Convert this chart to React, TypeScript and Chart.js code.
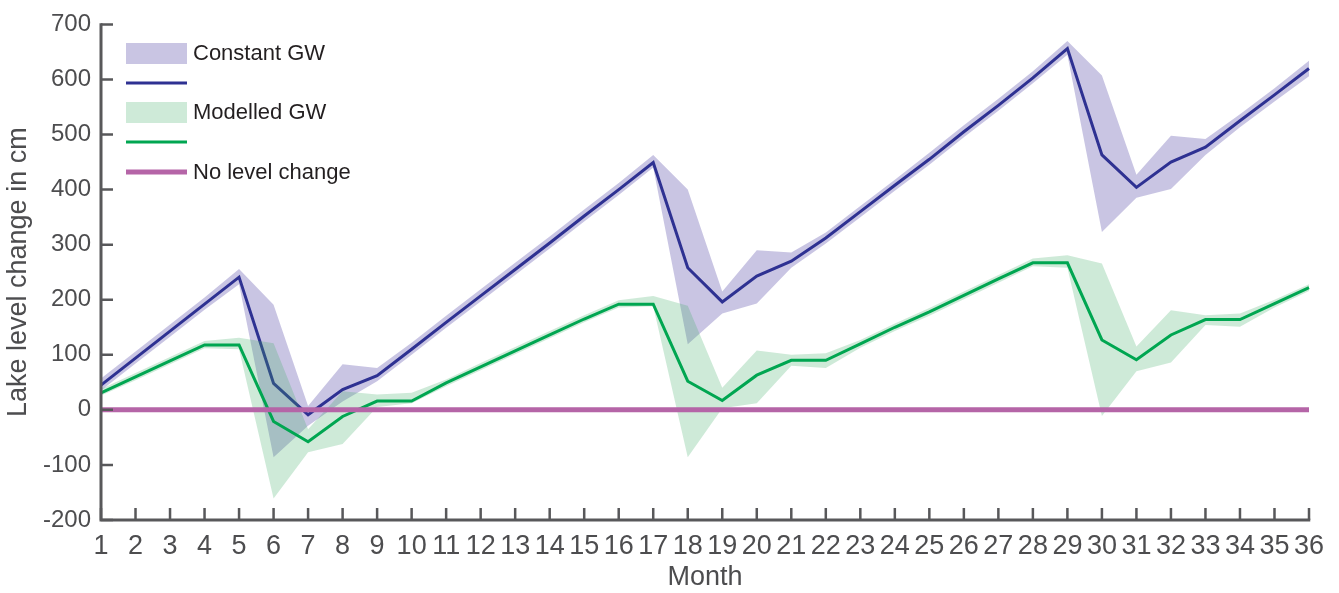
import { useEffect, useRef } from "react";
import { Chart, registerables } from "chart.js";

Chart.register(...registerables);

const months = [
  "1", "2", "3", "4", "5", "6", "7", "8", "9", "10", "11", "12",
  "13", "14", "15", "16", "17", "18", "19", "20", "21", "22", "23", "24",
  "25", "26", "27", "28", "29", "30", "31", "32", "33", "34", "35", "36",
];

const yTicks = [-200, -100, 0, 100, 200, 300, 400, 500, 600, 700];

const constantLine = [
  45, 94, 143, 192, 241, 48, -9, 37, 62, 110, 159, 207,
  255, 303, 352, 400, 449, 258, 196, 243, 270, 312, 360, 408,
  455, 505, 553, 603, 656, 463, 404, 450, 477, 525, 572, 620,
];
const constantUpper = [
  57, 106, 155, 204, 256, 191, 7, 83, 76, 122, 171, 219,
  267, 315, 364, 412, 463, 400, 215, 290, 286, 322, 370, 418,
  467, 517, 565, 615, 670, 607, 427, 498, 492, 537, 584, 634,
];
const constantLower = [
  35, 84, 133, 182, 228, -86, -29, 15, 52, 100, 149, 197,
  245, 293, 342, 390, 440, 119, 175, 193, 258, 302, 350, 398,
  445, 495, 543, 593, 645, 323, 385, 401, 463, 513, 560, 606,
];

const modelledLine = [
  31, 60, 89, 118, 118, -21, -58, -12, 16, 16, 49, 78,
  107, 136, 165, 192, 192, 52, 17, 63, 90, 90, 120, 150,
  178, 208, 238, 267, 267, 127, 91, 136, 164, 164, 193, 222,
];
const modelledUpper = [
  38, 67, 96, 125, 131, 121, -35, 34, 28, 31, 55, 85,
  114, 143, 172, 199, 207, 189, 40, 108, 100, 103, 127, 157,
  185, 215, 245, 275, 281, 266, 115, 181, 172, 175, 200, 228,
];
const modelledLower = [
  26, 54, 83, 112, 110, -161, -77, -62, 5, 12, 43, 72,
  101, 130, 159, 186, 188, -86, 3, 12, 80, 76, 113, 143,
  171, 201, 231, 261, 258, -11, 70, 86, 154, 151, 186, 216,
];

const noChange = [
  0, 0, 0, 0, 0, 0, 0, 0, 0, 0, 0, 0,
  0, 0, 0, 0, 0, 0, 0, 0, 0, 0, 0, 0,
  0, 0, 0, 0, 0, 0, 0, 0, 0, 0, 0, 0,
];

const legendLabels = ["Constant GW", "", "Modelled GW", "", "No level change"];

const AXIS_COLOR = "#58585a";
const TEXT_COLOR = "#4d4d4f";
const BLUE = "#2e3192";
const GREEN = "#00a651";
const PURPLE = "#b565a7";
const BLUE_BAND = "rgba(120,110,185,0.4)";
const GREEN_BAND = "rgba(60,170,100,0.25)";

export default function App() {
  const ref = useRef<HTMLCanvasElement>(null);

  useEffect(() => {
    document.body.style.margin = "0";
    if (!ref.current) return;

    const axesPlugin = {
      id: "matlabAxes",
      afterDatasetsDraw(chart: any) {
        const { ctx, chartArea } = chart;
        const xs = chart.scales.x;
        const ys = chart.scales.y;
        const { left, right, top, bottom } = chartArea;
        ctx.save();
        ctx.strokeStyle = AXIS_COLOR;
        ctx.lineCap = "butt";
        ctx.lineWidth = 2.5;
        ctx.beginPath();
        ys.ticks.forEach((_t: any, i: number) => {
          const py = ys.getPixelForTick(i);
          ctx.moveTo(left, py);
          ctx.lineTo(left + 12, py);
        });
        xs.ticks.forEach((_t: any, i: number) => {
          const px = xs.getPixelForTick(i);
          ctx.moveTo(px, bottom);
          ctx.lineTo(px, bottom - 12);
        });
        ctx.stroke();
        ctx.lineWidth = 3;
        ctx.beginPath();
        ctx.moveTo(left, top - 1.25);
        ctx.lineTo(left, bottom);
        ctx.lineTo(right + 1.25, bottom);
        ctx.stroke();
        ctx.restore();
      },
      afterDraw(chart: any) {
        const { ctx } = chart;
        ctx.save();
        const x0 = 126;
        const x1 = 187;
        ctx.fillStyle = BLUE_BAND;
        ctx.fillRect(x0, 43, x1 - x0, 21);
        ctx.strokeStyle = BLUE;
        ctx.lineWidth = 3;
        ctx.beginPath();
        ctx.moveTo(x0, 83);
        ctx.lineTo(x1, 83);
        ctx.stroke();
        ctx.fillStyle = GREEN_BAND;
        ctx.fillRect(x0, 102, x1 - x0, 21);
        ctx.strokeStyle = GREEN;
        ctx.beginPath();
        ctx.moveTo(x0, 142);
        ctx.lineTo(x1, 142);
        ctx.stroke();
        ctx.strokeStyle = PURPLE;
        ctx.lineWidth = 5;
        ctx.beginPath();
        ctx.moveTo(x0, 172);
        ctx.lineTo(x1, 172);
        ctx.stroke();
        ctx.fillStyle = "#231f20";
        ctx.font = '22px "Liberation Sans", Arial, sans-serif';
        ctx.textBaseline = "middle";
        ctx.textAlign = "left";
        const ys = [54, 83, 113, 142, 173];
        legendLabels.forEach((t, i) => {
          if (t) ctx.fillText(t, 193, ys[i]);
        });
        ctx.restore();
      },
    };

    const chart = new Chart(ref.current, {
      type: "line",
      data: {
        labels: months,
        datasets: [
          {
            label: "Constant GW upper",
            data: constantUpper,
            borderWidth: 0,
            pointRadius: 0,
            backgroundColor: BLUE_BAND,
            fill: "+1",
            order: 6,
          },
          {
            label: "Constant GW lower",
            data: constantLower,
            borderWidth: 0,
            pointRadius: 0,
            fill: false,
            order: 6,
          },
          {
            label: "Constant GW",
            data: constantLine,
            borderColor: BLUE,
            borderWidth: 3,
            pointRadius: 0,
            fill: false,
            order: 5,
          },
          {
            label: "Modelled GW upper",
            data: modelledUpper,
            borderWidth: 0,
            pointRadius: 0,
            backgroundColor: GREEN_BAND,
            fill: "+1",
            order: 4,
          },
          {
            label: "Modelled GW lower",
            data: modelledLower,
            borderWidth: 0,
            pointRadius: 0,
            fill: false,
            order: 4,
          },
          {
            label: "Modelled GW",
            data: modelledLine,
            borderColor: GREEN,
            borderWidth: 3,
            pointRadius: 0,
            fill: false,
            order: 3,
          },
          {
            label: "No level change",
            data: noChange,
            borderColor: PURPLE,
            borderWidth: 5,
            borderCapStyle: "butt",
            pointRadius: 0,
            fill: false,
            order: 1,
          },
        ],
      },
      options: {
        responsive: false,
        animation: false,
        layout: { padding: { top: 20, right: 30, left: 0, bottom: 0 } },
        plugins: {
          legend: { display: false },
          tooltip: { enabled: false },
        },
        elements: { line: { tension: 0 } },
        scales: {
          x: {
            type: "category",
            offset: false,
            grid: { display: false, drawTicks: false },
            border: { display: false },
            ticks: {
              autoSkip: false,
              maxRotation: 0,
              minRotation: 0,
              padding: 10,
              color: TEXT_COLOR,
              font: { family: '"Liberation Sans Narrow", "Liberation Sans", Arial', size: 27 },
            },
            title: {
              display: true,
              text: "Month",
              color: TEXT_COLOR,
              padding: 0,
              font: { family: '"Liberation Sans", Arial', size: 27, lineHeight: 1.15 },
            },
            afterFit: (s: any) => {
              s.height = 73;
            },
          },
          y: {
            type: "linear",
            min: -200,
            max: 700,
            grid: { display: false, drawTicks: false },
            border: { display: false },
            afterBuildTicks: (s: any) => {
              s.ticks = yTicks.map((v) => ({ value: v }));
            },
            ticks: {
              padding: 10,
              color: TEXT_COLOR,
              font: { family: '"Liberation Sans", Arial', size: 24 },
            },
            title: {
              display: true,
              text: "Lake level change in cm",
              color: TEXT_COLOR,
              padding: 0,
              font: { family: '"Liberation Sans", Arial', size: 27, lineHeight: 1.38 },
            },
            afterFit: (s: any) => {
              s.width = 101;
            },
          },
        },
      },
      plugins: [axesPlugin],
    } as any);

    return () => {
      chart.destroy();
    };
  }, []);

  return (
    <div style={{ width: 1339, height: 593 }}>
      <canvas ref={ref} width={1339} height={593} style={{ display: "block" }} />
    </div>
  );
}
